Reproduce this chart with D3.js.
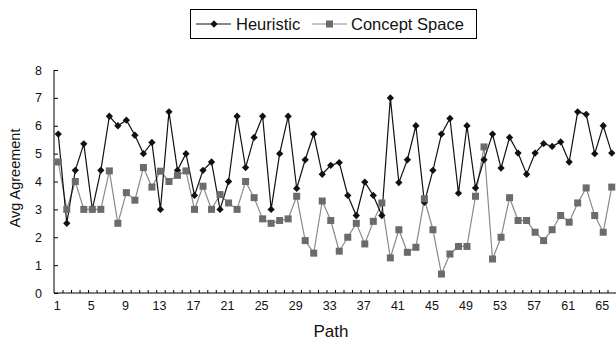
<!DOCTYPE html>
<html>
<head>
<meta charset="utf-8">
<script src="https://cdn.jsdelivr.net/npm/d3@7"></script>
<style>
  body { margin: 0; background: #fff; }
  text { font-family: "Liberation Sans", Arial, sans-serif; fill: #111; }
</style>
</head>
<body>
<div id="chart"></div>
<script>
// paths 1..66
const paths = d3.range(1, 67);
const xTickLabels = [1, 5, 9, 13, 17, 21, 25, 29, 33, 37, 41, 45, 49, 53, 57, 61, 65];
const yTicks = [0, 1, 2, 3, 4, 5, 6, 7, 8];

const heuristic = [
    5.7, 2.5, 4.4, 5.35, 3.0, 4.4, 6.34, 6.0, 6.2, 5.66,
    5.0, 5.4, 3.0, 6.5, 4.4, 5.0, 3.5, 4.4, 4.7, 3.0,
    4.0, 6.34, 4.5, 5.58, 6.34, 3.0, 5.0, 6.34, 3.75, 4.78,
    5.7, 4.26, 4.58, 4.68, 3.5, 2.78, 3.98, 3.5, 2.78, 7.0,
    3.96, 4.78, 6.0, 3.25, 4.4, 5.7, 6.26, 3.58, 6.0, 3.77,
    4.78, 5.7, 4.48, 5.58, 5.02, 4.26, 5.02, 5.36, 5.26, 5.42,
    4.7, 6.5, 6.41, 5.0, 6.0, 5.02
];
const conceptSpace = [
    4.7, 3.0, 4.0, 3.0, 3.0, 3.0, 4.38, 2.5, 3.6, 3.33,
    4.5, 3.8, 4.37, 4.0, 4.22, 4.38, 3.0, 3.83, 3.0, 3.53,
    3.23, 3.0, 4.0, 3.42, 2.66, 2.5, 2.6, 2.66, 3.47, 1.88,
    1.43, 3.3, 2.6, 1.5, 2.0, 2.5, 1.76, 2.57, 3.23, 1.26,
    2.27, 1.46, 1.64, 3.38, 2.27, 0.68, 1.4, 1.67, 1.67, 3.47,
    5.24, 1.22, 2.0, 3.42, 2.6, 2.6, 2.18, 1.88, 2.27, 2.78,
    2.54, 3.23, 3.77, 2.78, 2.18, 3.8
];

const W = 616, H = 345;
const margin = { top: 70, right: 0, bottom: 52, left: 54 };
const width = W - margin.left - margin.right;
const height = H - margin.top - margin.bottom;

const svg = d3.select("#chart").append("svg")
    .attr("width", W)
    .attr("height", H);

const g = svg.append("g")
    .attr("transform", "translate(" + margin.left + "," + margin.top + ")");

const x = d3.scaleBand().domain(paths).range([0, width]);
const cx = d => x(d) + x.bandwidth() / 2;
const y = d3.scaleLinear().domain([0, 8]).range([height, 0]);

// y axis, ticks pointing inward
const yAxis = g.append("g")
    .call(d3.axisRight(y).tickValues(yTicks).tickSize(4).tickFormat(""));
yAxis.select(".domain").attr("stroke", "#000").attr("d", "M0,0V" + height);
yAxis.selectAll(".tick line").attr("stroke", "#000");

g.selectAll(".ylab")
    .data(yTicks)
    .enter()
    .append("text")
    .attr("class", "ylab")
    .attr("x", -12)
    .attr("y", d => y(d) + 4.5)
    .attr("text-anchor", "end")
    .style("font-size", "12.5px")
    .text(d => d);

// x axis: ticks at category boundaries, pointing up
const xAxis = g.append("g")
    .attr("transform", "translate(0," + height + ")");
xAxis.append("line")
    .attr("x1", 0).attr("x2", width)
    .attr("stroke", "#000");
xAxis.selectAll(".xt")
    .data(paths.slice(1))
    .enter()
    .append("line")
    .attr("x1", d => x(d) + 0.5).attr("x2", d => x(d) + 0.5)
    .attr("y1", 0).attr("y2", -3)
    .attr("stroke", "#000");

xAxis.selectAll(".xlab")
    .data(xTickLabels)
    .enter()
    .append("text")
    .attr("x", d => cx(d) - 1)
    .attr("y", 17)
    .attr("text-anchor", "middle")
    .style("font-size", "12.5px")
    .text(d => d);

// axis titles
svg.append("text")
    .attr("x", 331)
    .attr("y", 337)
    .attr("text-anchor", "middle")
    .style("font-size", "17px")
    .text("Path");

svg.append("text")
    .attr("transform", "translate(20," + 178 + ")rotate(-90)")
    .attr("text-anchor", "middle")
    .style("font-size", "14.5px")
    .text("Avg Agreement");

// series
const line = d3.line().x((d, i) => cx(paths[i])).y(d => y(d));

g.append("path")
    .datum(conceptSpace)
    .attr("d", line)
    .attr("fill", "none")
    .attr("stroke", "#8a8a8a")
    .attr("stroke-width", 1.2);

g.append("path")
    .datum(heuristic)
    .attr("d", line)
    .attr("fill", "none")
    .attr("stroke", "#111")
    .attr("stroke-width", 1.2);

const diamond = d3.symbol().type(d3.symbolDiamond2).size(34);

g.selectAll(".h")
    .data(heuristic)
    .enter()
    .append("path")
    .attr("d", diamond)
    .attr("transform", (d, i) => "translate(" + cx(paths[i]) + "," + y(d) + ")")
    .attr("fill", "#111");

g.selectAll(".c")
    .data(conceptSpace)
    .enter()
    .append("rect")
    .attr("x", (d, i) => cx(paths[i]) - 3.5)
    .attr("y", d => y(d) - 3.5)
    .attr("width", 7)
    .attr("height", 7)
    .attr("fill", "#6b6b6b");

// legend
const lg = svg.append("g").attr("transform", "translate(190,9)");
lg.append("rect")
    .attr("x", 0.5).attr("y", 0.5)
    .attr("width", 286).attr("height", 29)
    .attr("fill", "#fff")
    .attr("stroke", "#000");

lg.append("line").attr("x1", 6).attr("x2", 41).attr("y1", 15).attr("y2", 15).attr("stroke", "#111");
lg.append("path").attr("d", diamond).attr("transform", "translate(24,15)").attr("fill", "#111");
lg.append("text").attr("x", 46).attr("y", 21).style("font-size", "16.5px").text("Heuristic");

lg.append("line").attr("x1", 122).attr("x2", 157).attr("y1", 15).attr("y2", 15).attr("stroke", "#8a8a8a");
lg.append("rect").attr("x", 136).attr("y", 11.5).attr("width", 7).attr("height", 7).attr("fill", "#6b6b6b");
lg.append("text").attr("x", 161).attr("y", 21).style("font-size", "16.5px").text("Concept Space");
</script>
</body>
</html>
